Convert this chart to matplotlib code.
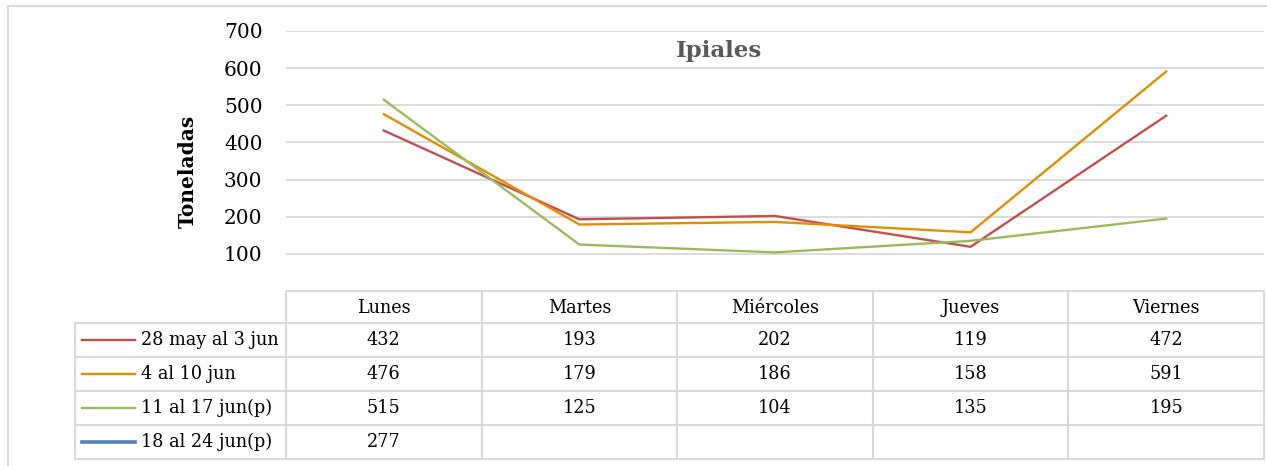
import matplotlib
matplotlib.use("Agg")
import matplotlib.pyplot as plt
from matplotlib.lines import Line2D

plt.rcParams['font.family'] = ['DejaVu Serif']

# Datos de la tabla
dias = ["Lunes", "Martes", "Miércoles", "Jueves", "Viernes"]
series = ["28 may al 3 jun", "4 al 10 jun", "11 al 17 jun(p)", "18 al 24 jun(p)"]
semana1 = [432, 193, 202, 119, 472]
semana2 = [476, 179, 186, 158, 591]
semana3 = [515, 125, 104, 135, 195]
semana4 = [277, None, None, None, None]
valores = [semana1, semana2, semana3, semana4]
colores = ["#C0504D", "#E38D00", "#9BBB59", "#4F81BD"]
anchos = [1.7, 1.7, 1.7, 2.6]
y_ticks = [100, 200, 300, 400, 500, 600, 700]

W, H = 1267, 466
gris = "#D9D9D9"

def fx(px):
    return px / W

def fy(py):
    return 1 - py / H

fig = plt.figure(figsize=(W / 100, H / 100), dpi=100)

# Marco exterior
fig.add_artist(Line2D([fx(8), fx(8)], [fy(6), 0], color=gris, lw=1.5))
fig.add_artist(Line2D([fx(8), 1], [fy(6), fy(6)], color=gris, lw=1.5))

# Grafico de lineas
left, right, top, bottom = 286, 1264, 31, 291
ax = fig.add_axes([fx(left), fy(bottom), (right - left) / W, (bottom - top) / H])
x = list(range(len(dias)))
for vals, c, lw in zip(valores, colores, anchos):
    pts = [(i, v) for i, v in zip(x, vals) if v is not None]
    if len(pts) > 1:
        ax.plot([p[0] for p in pts], [p[1] for p in pts], color=c, lw=lw,
                solid_joinstyle="miter")
ax.set_xlim(-0.5, len(dias) - 0.5)
ax.set_ylim(0, 700)
ax.set_yticks(y_ticks)
ax.set_xticks([])
ax.tick_params(axis="y", length=0, pad=17, labelsize=14.5)
ax.grid(axis="y", color=gris, lw=1.3)
ax.set_axisbelow(True)
for s in ax.spines.values():
    s.set_visible(False)

ax.text(0.443, 0.925, "Ipiales", transform=ax.transAxes, ha="center", va="center",
        fontsize=16.5, fontweight="bold", color="#595959")
fig.text(fx(188), fy(171), "Toneladas", rotation=90, ha="center", va="center",
         fontsize=14.5, fontweight="bold")

# Tabla de datos
tab_top, tab_bot = 291, 459
tx = fig.add_axes([fx(left), fy(tab_bot), (right - left) / W, (tab_bot - tab_top) / H])
tx.set_xlim(-0.5, len(dias) - 0.5)
tx.set_ylim(tab_bot, tab_top)
tx.axis("off")

unit = (right - left) / len(dias)

def px2x(px):
    return -0.5 + (px - left) / unit

filas = [291, 323, 357, 391, 425, 459]
x0 = px2x(75)
xr = len(dias) - 0.5
lk = dict(color=gris, lw=1.5, clip_on=False, solid_capstyle="projecting")

# lineas horizontales
tx.plot([-0.5, xr], [filas[0], filas[0]], **lk)
for yy in filas[1:]:
    tx.plot([x0, xr], [yy, yy], **lk)
# lineas verticales
tx.plot([x0, x0], [filas[1], filas[-1]], **lk)
for i in range(len(dias) + 1):
    xv = -0.5 + i
    tx.plot([xv, xv], [filas[0], filas[-1]], **lk)

fs = 12.7
for i, d in enumerate(dias):
    tx.text(i, (filas[0] + filas[1]) / 2 + 1, d, ha="center", va="center", fontsize=fs)

for r, (nombre, vals, c, lw) in enumerate(zip(series, valores, colores, anchos)):
    yc = (filas[r + 1] + filas[r + 2]) / 2
    tx.plot([px2x(82), px2x(135)], [yc, yc], color=c, lw=lw, clip_on=False)
    tx.text(px2x(141), yc, nombre, ha="left", va="center", fontsize=fs)
    for i, v in enumerate(vals):
        if v is not None:
            tx.text(i, yc, str(v), ha="center", va="center", fontsize=fs)

fig.savefig("out.png", dpi=100)
